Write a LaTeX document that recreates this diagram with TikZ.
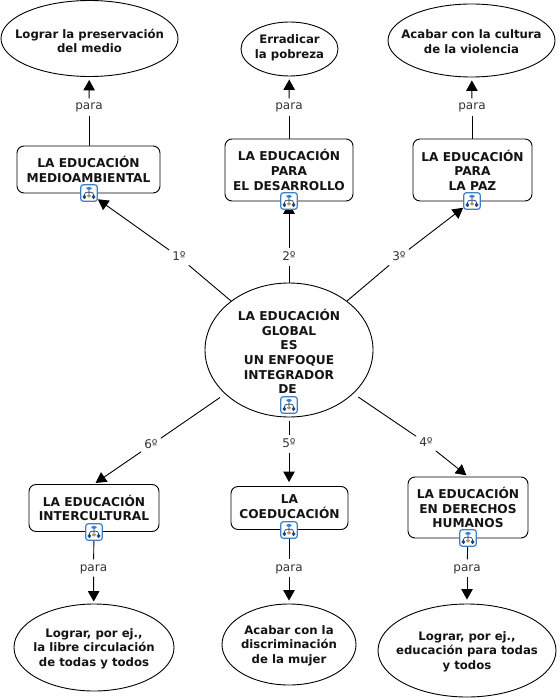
\documentclass[tikz,border=0pt]{standalone}
\usepackage{fontspec}
\setmainfont{DejaVu Sans}
\usetikzlibrary{shapes.geometric,arrows.meta,backgrounds}
\definecolor{iconblue}{HTML}{3F7FC8}
\definecolor{iconnavy}{HTML}{1F3F78}
\definecolor{iconsand}{HTML}{B89858}
\tikzset{
  x=1pt,y=-1pt,
  concept/.style={draw=black,line width=0.9pt,fill=white,align=center,inner sep=0pt,
    font=\fontsize{12.2}{14.6}\bfseries\selectfont,text=black!92},
  ovalnode/.style={draw=black,line width=0.9pt,fill=white,ellipse,inner sep=0pt},
  ovaltext/.style={align=center,inner sep=0pt,
    font=\fontsize{11.7}{14.5}\bfseries\selectfont,text=black!92},
  boxnode/.style={concept,rectangle,rounded corners=7pt},
  linklabel/.style={font=\fontsize{12}{14}\selectfont,text=black!80,inner sep=3pt,
    text height=8.5pt,text depth=2.5pt,minimum width=18pt},
  link/.style={draw=black,line width=0.9pt},
  arrowlink/.style={link,-{Triangle[length=10.5pt,width=11.5pt]}},
  iconnode/.style={rectangle,rounded corners=2.5pt,draw=iconblue,line width=1.2pt,fill=white,
    minimum size=16.5pt,inner sep=0pt,path picture={
      \begin{scope}[shift={(path picture bounding box.center)},x=1pt,y=-1pt]
        \draw[iconnavy,line width=0.7pt] (0,-3) -- (0,1) (-4.5,2) -- (-4.5,-0.8) -- (4.5,-0.8) -- (4.5,2);
        \fill[iconblue] (-2.6,-6.2) rectangle (2.6,-3);
        \fill[iconnavy] (-6.3,2) rectangle (-2.8,5.8);
        \fill[iconsand] (-1.8,1) rectangle (1.8,4.6);
        \fill[iconnavy] (2.8,2) rectangle (6.3,5.8);
      \end{scope}}},
}
\begin{document}
\begin{tikzpicture}
\useasboundingbox (0,0) rectangle (559,700);

% top goals
\node[ovalnode,minimum width=177pt,minimum height=76pt,label={[ovaltext,yshift=-2.5pt]center:{Lograr la preservación\\del medio}}] (g1) at (89.5,38.5) {};
\node[ovalnode,minimum width=97pt,minimum height=54pt,label={[ovaltext,yshift=1pt]center:{Erradicar\\la pobreza}}] (g2) at (289.5,49) {};
\node[ovalnode,minimum width=167pt,minimum height=73pt,label={[ovaltext,yshift=-1.2pt]center:{Acabar con la cultura\\de la violencia}}] (g3) at (471.5,40.5) {};

% upper boxes
\node[boxnode,minimum width=143pt,minimum height=47pt] (b1) at (88.5,169.5) {LA EDUCACIÓN\\MEDIOAMBIENTAL};
\node[boxnode,minimum width=128pt,minimum height=62pt] (b2) at (289,170) {LA EDUCACIÓN\\PARA\\EL DESARROLLO};
\node[boxnode,minimum width=119pt,minimum height=62pt] (b3) at (472.5,170) {LA EDUCACIÓN\\PARA\\LA PAZ};

% centre
\node[ovalnode,minimum width=168pt,minimum height=134pt,label={[concept,draw=none,fill=none,yshift=-1.5pt]center:{LA EDUCACIÓN\\GLOBAL\\ES\hspace*{3pt}\\UN ENFOQUE\\INTEGRADOR\hspace*{3pt}\\DE\hspace*{3pt}}}] (c) at (289,350) {};

% lower boxes
\node[boxnode,minimum width=130pt,minimum height=47pt] (b6) at (94,508) {LA EDUCACIÓN\\INTERCULTURAL};
\node[boxnode,minimum width=117pt,minimum height=43pt] (b5) at (289.5,508) {\raisebox{2.5pt}{LA}\\\raisebox{2.5pt}{COEDUCACIÓN}};
\node[boxnode,minimum width=120pt,minimum height=61pt] (b4) at (468,507.5) {LA EDUCACIÓN\\EN DERECHOS\\HUMANOS};

% lower goals
\node[ovalnode,minimum width=160pt,minimum height=87pt,label={[ovaltext,yshift=-1pt]center:{Lograr, por ej.,\\la libre circulación\\de todas y todos}}] (g6) at (94,647.5) {};
\node[ovalnode,minimum width=134pt,minimum height=81pt,label={[ovaltext,yshift=-1.3pt]center:{Acabar con la\\discriminación\\de la mujer}}] (g5) at (289,644.5) {};
\node[ovalnode,minimum width=178pt,minimum height=93pt,label={[ovaltext,yshift=-1pt]center:{Lograr, por ej.,\\educación para todas\\y todos}}] (g4) at (467,650.5) {};

% icons
\node[iconnode] (i1) at (89,193) {};
\node[iconnode] (i2) at (289,201) {};
\node[iconnode] (i3) at (472,201) {};
\node[iconnode] (ic) at (289,405) {};
\node[iconnode] (i6) at (94,532) {};
\node[iconnode] (i5) at (289,530) {};
\node[iconnode] (i4) at (468,538) {};

% labels
\node[linklabel] (p1) at (89,107) {para};
\node[linklabel] (p2) at (289,107) {para};
\node[linklabel] (p3) at (472,107) {para};
\node[linklabel] (n1) at (179,257) {1º};
\node[linklabel] (n2) at (289,257) {2º};
\node[linklabel] (n3) at (399,257) {3º};
\node[linklabel] (n6) at (151,445) {6º};
\node[linklabel] (n5) at (289,444) {5º};
\node[linklabel] (n4) at (426,443) {4º};
\node[linklabel] (p6) at (93.5,568) {para};
\node[linklabel] (p5) at (289,568) {para};
\node[linklabel] (p4) at (467,568) {para};

\begin{scope}[on background layer]
  \draw[link] (p1 |- b1.north) -- (p1);
  \draw[arrowlink,shorten >=3pt] (p1) -- (g1);
  \draw[link] (b2) -- (p2);
  \draw[arrowlink,shorten >=3pt] (p2) -- (g2);
  \draw[link] (p3 |- b3.north) -- (p3);
  \draw[arrowlink,shorten >=3pt] (p3) -- (g3);

  \draw[link] (c) -- (n1);
  \draw[arrowlink] (n1) -- (i1);
  \draw[link] (c) -- (n2);
  \draw[arrowlink,shorten >=-6.5pt] (n2) -- (i2);
  \draw[link] (c) -- (n3);
  \draw[arrowlink] (n3) -- (i3);

  \draw[link,shorten <=6pt] (c) -- (n6);
  \draw[arrowlink,shorten >=2pt] (n6) -- (b6.north);
  \draw[link,shorten <=4pt] (c) -- (n5);
  \draw[arrowlink,shorten >=4pt] (n5) -- (n5 |- b5.north);
  \draw[link,shorten <=6pt] (c) -- (n4);
  \draw[arrowlink,shorten >=2pt] (n4) -- (b4.north);

  \draw[link] (i6) -- (p6);
  \draw[arrowlink,shorten >=2pt] (p6) -- (g6);
  \draw[link] (i5) -- (p5);
  \draw[arrowlink,shorten >=3pt] (p5) -- (g5);
  \draw[link] (i4) -- (p4);
  \draw[arrowlink,shorten >=4pt] (p4) -- (g4);
\end{scope}
\end{tikzpicture}
\end{document}
